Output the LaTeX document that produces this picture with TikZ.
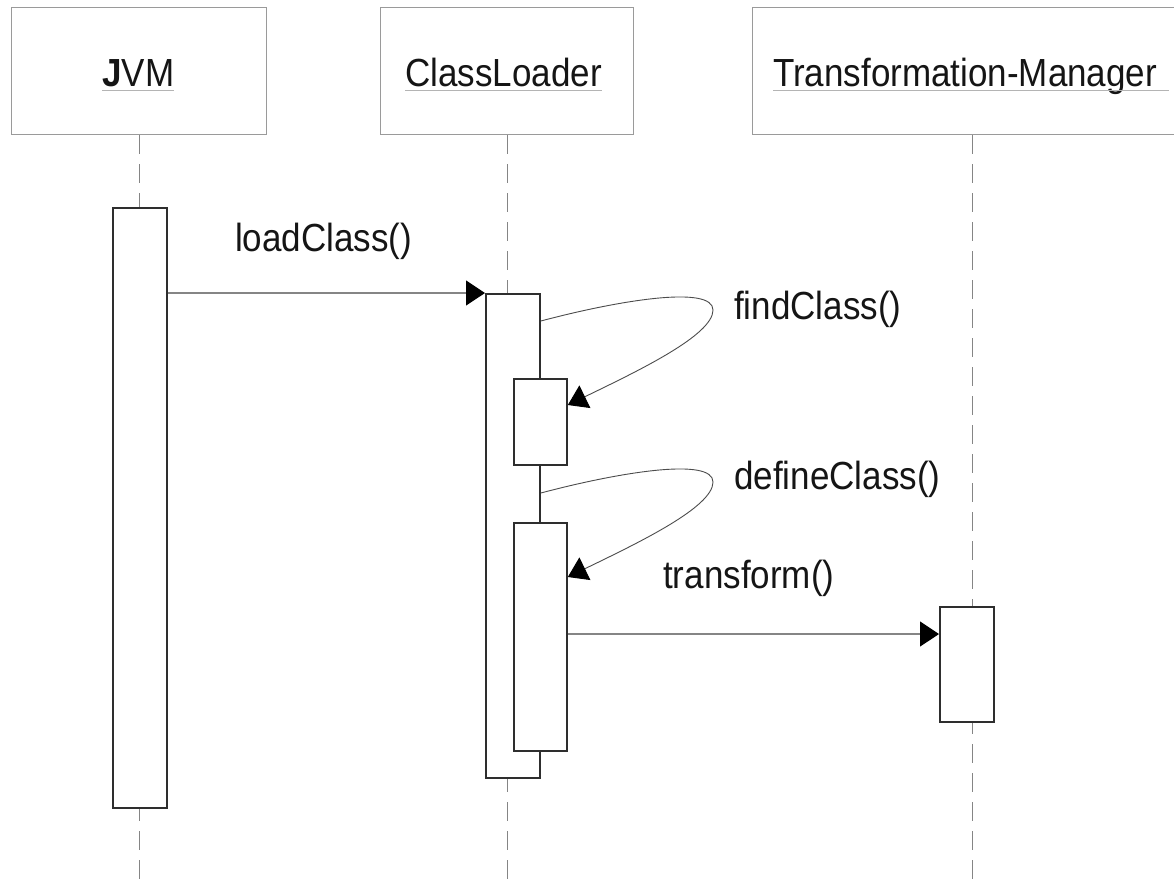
\documentclass[tikz,border=0pt]{standalone}
\usepackage{fontspec}
\setmainfont{Liberation Sans}
\usetikzlibrary{arrows.meta,calc}
\definecolor{hdrgray}{HTML}{9A9A9A}
\definecolor{ulgray}{HTML}{B4B4B4}
\definecolor{linegray}{HTML}{858585}
\definecolor{actgray}{HTML}{2E2E2E}
\definecolor{txt}{HTML}{151515}
\newcommand{\tallt}[1]{\scalebox{1}[1.12]{#1}}
\begin{document}
\begin{tikzpicture}[x=1pt,y=-1pt,
  hdr/.style={draw=hdrgray,line width=1.3pt,fill=white,inner sep=0pt,anchor=north west},
  act/.style={draw=actgray,line width=1.8pt,fill=white,inner sep=0pt,anchor=north west},
  life/.style={draw=linegray,line width=1.3pt,dash pattern=on 19pt off 10pt},
  msg/.style={draw=linegray,line width=1.1pt,-{Triangle[length=19pt,width=25pt,color=black]}},
  selfmsg/.style={draw=black!70,line width=0.9pt,-{Triangle[length=19pt,width=25pt,color=black]}},
  lbl/.style={font=\fontsize{35}{40}\selectfont,text=txt,inner sep=0pt,anchor=base west},
  uline/.style={draw=ulgray,line width=1.6pt}]
\clip (0,0) rectangle (1174,879);
\fill[white] (0,0) rectangle (1174,879);
% headers
\node[hdr,minimum width=255pt,minimum height=127pt] (jvmh) at (11,7) {};
\node[hdr,minimum width=253pt,minimum height=127pt] (clh) at (380,7) {};
\node[hdr,minimum width=440pt,minimum height=127pt] (tmh) at (752,7) {};
\node[lbl] (jvmt) at (102,86) {\tallt{\textbf{J}VM}};
\node[lbl] (clt) at (405,86) {\tallt{ClassLoader}};
\node[lbl] (tmt) at (773,86) {\tallt{Transformation-Manager}};
\draw[uline] ($(jvmt.base west)+(0,4.5)$) -- ($(jvmt.base east)+(0,4.5)$);
\draw[uline] ($(clt.base west)+(0,4.5)$) -- ($(clt.base east)+(0,4.5)$);
\draw[uline] ($(tmt.base west)+(0,4.5)$) -- ($(tmt.base east)+(12,4.5)$);
% lifelines
\coordinate (bottom) at (0,885);
\draw[life] (jvmh.south) -- (jvmh.south |- bottom);
\draw[life] (clh.south) -- (clh.south |- bottom);
\draw[life] (tmh.south) -- (tmh.south |- bottom);
% activations
\node[act,minimum width=54pt,minimum height=600pt] (jvma) at (112,207) {};
\node[act,minimum width=54pt,minimum height=484pt] (cla) at (485,293) {};
\node[act,minimum width=53pt,minimum height=86pt] (fca) at (513,378) {};
\node[act,minimum width=53pt,minimum height=228pt] (dca) at (513,522) {};
\node[act,minimum width=54pt,minimum height=115pt] (tma) at (939,606) {};
% messages
\draw[msg] (jvma.east |- cla.north west) -- (cla.north west);
\coordinate (tin) at ($(tma.north west)+(0,28)$);
\draw[msg] (dca.east |- tin) -- (tin);
\coordinate (fs) at ($(cla.north east)+(0,28)$);
\coordinate (fe) at ($(fca.north east)+(0,27)$);
\draw[selfmsg] (fs) .. controls (620,300) and (713,285) .. (713,310) .. controls (713,335) and (640,370) .. (fe);
\coordinate (ds) at ($(cla.north east)+(0,200)$);
\coordinate (de) at ($(dca.north east)+(0,55)$);
\draw[selfmsg] (ds) .. controls (620,472) and (713,457) .. (713,482) .. controls (713,507) and (640,542) .. (de);
% labels
\node[lbl] (lc) at (235,251) {\tallt{loadClass()}};
\node[lbl] (fc) at (734,319) {\tallt{findClass()}};
\node[lbl] (dc) at (734,489) {\tallt{defineClass()}};
\node[lbl] (tf) at (663,588) {\tallt{transform()}};
\end{tikzpicture}
\end{document}
